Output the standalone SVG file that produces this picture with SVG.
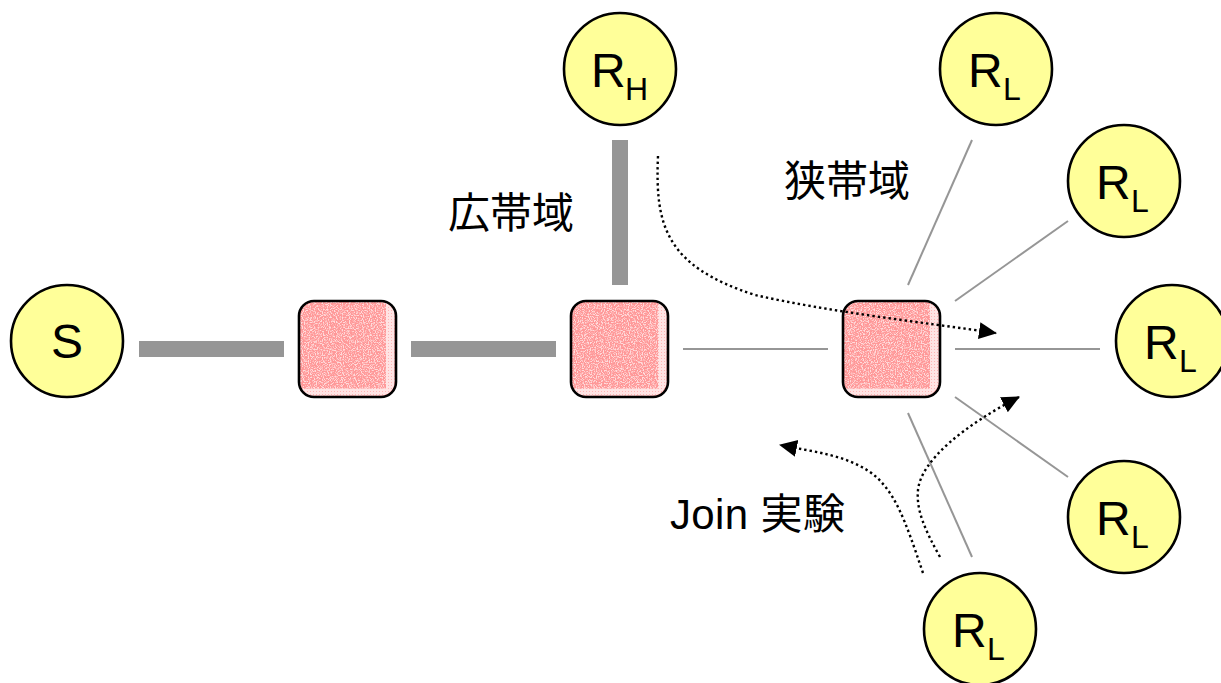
<svg xmlns="http://www.w3.org/2000/svg" width="1221" height="683" viewBox="0 0 1221 683">
<style>
text{font-family:"Liberation Sans","Noto Sans CJK JP",sans-serif;fill:#000}
.big{font-size:48px}
.sub{font-size:32px}
.cjk{font-size:42px}
.node{fill:#ffff99;stroke:#000;stroke-width:2.600}
.router{fill:#ff9898;filter:url(#noise)}
.edge{fill:none;stroke:#000;stroke-width:2.600}
.thick{stroke:#969696;stroke-width:16;fill:none}
.thin{stroke:#969696;stroke-width:2;fill:none}
.flow{stroke:#000;stroke-width:2.400;stroke-dasharray:2.400 3;fill:none;marker-end:url(#head)}
</style>
<defs>
<filter id="noise" x="0" y="0" width="1" height="1" color-interpolation-filters="sRGB">
<feTurbulence type="fractalNoise" baseFrequency="0.85" numOctaves="2" seed="4" result="n"/>
<feColorMatrix in="n" type="matrix" values="0 0 0 0 1  0 0 0 0 0.86  0 0 0 0 0.86  5 0 0 0 -2.300" result="m"/>
<feComposite in="m" in2="SourceAlpha" operator="in" result="s"/>
<feMerge><feMergeNode in="SourceGraphic"/><feMergeNode in="s"/></feMerge>
</filter>
<pattern id="fade" patternUnits="userSpaceOnUse" width="3" height="3">
<rect width="3" height="3" fill="#ffe4e4"/><rect x="1" y="1" width="1" height="1" fill="#ffb4b4"/>
</pattern>
<marker id="head" markerUnits="userSpaceOnUse" markerWidth="20" markerHeight="20" refX="17" refY="10" orient="auto">
<path d="M0 1.500L18 10L0 18.500Z" fill="#000"/>
</marker>
</defs>
<g id="connectors">
<path class="thick" d="M139 349H284"/>
<path class="thick" d="M411 349H556"/>
<path class="thick" d="M620 140V285"/>
<path class="thin" d="M683 349H828"/>
<path class="thin" d="M955 349H1100"/>
<path class="thin" d="M908 285L972 140"/>
<path class="thin" d="M955 301L1068 221"/>
<path class="thin" d="M955 397L1068 477"/>
<path class="thin" d="M908 413L972 557"/>
</g>
<g id="node-s"><circle class="node" cx="67" cy="341" r="56"/><text class="big" x="67" y="358" text-anchor="middle">S</text></g>
<g id="router-1"><rect class="router" x="299" y="301" width="97" height="96" rx="15"/><path fill="url(#fade)" d="M387 302.500h-1v86h-85.500a14 14 0 0 0 13 7h68a14 14 0 0 0 13-13v-68a14 14 0 0 0-7.500-12z"/><rect class="edge" x="299" y="301" width="97" height="96" rx="15"/></g>
<g id="router-2"><rect class="router" x="571" y="301" width="97" height="96" rx="15"/><path fill="url(#fade)" d="M659 302.500h-1v86h-85.500a14 14 0 0 0 13 7h68a14 14 0 0 0 13-13v-68a14 14 0 0 0-7.500-12z"/><rect class="edge" x="571" y="301" width="97" height="96" rx="15"/></g>
<g id="router-3"><rect class="router" x="843" y="301" width="97" height="96" rx="15"/><path fill="url(#fade)" d="M931 302.500h-1v86h-85.500a14 14 0 0 0 13 7h68a14 14 0 0 0 13-13v-68a14 14 0 0 0-7.500-12z"/><rect class="edge" x="843" y="301" width="97" height="96" rx="15"/></g>
<g id="node-rh"><circle class="node" cx="620" cy="69" r="56"/><text class="big" x="591" y="87">R</text><text class="sub" x="625" y="100">H</text></g>
<g id="node-rl1"><circle class="node" cx="996" cy="69" r="56"/><text class="big" x="968" y="87">R</text><text class="sub" x="1003" y="100">L</text></g>
<g id="node-rl2"><circle class="node" cx="1124" cy="181" r="56"/><text class="big" x="1096" y="199">R</text><text class="sub" x="1131" y="212">L</text></g>
<g id="node-rl3"><circle class="node" cx="1172" cy="341" r="56"/><text class="big" x="1144" y="359">R</text><text class="sub" x="1179" y="372">L</text></g>
<g id="node-rl4"><circle class="node" cx="1124" cy="517" r="56"/><text class="big" x="1096" y="535">R</text><text class="sub" x="1131" y="548">L</text></g>
<g id="node-rl5"><circle class="node" cx="980" cy="629" r="56"/><text class="big" x="952" y="647">R</text><text class="sub" x="987" y="660">L</text></g>
<g id="flows">
<path class="flow" d="M658 156C655 225 665 266 755 295C830 312 920 322 996 333"/>
<path class="flow" d="M940 557C925 530 916 510 918 490C921 460 965 425 1019 397"/>
<path class="flow" d="M923 573C905 520 895 490 870 472C845 455 815 452 780 445"/>
</g>
<g id="labels">
<text class="cjk" x="448" y="228">広帯域</text>
<text class="cjk" x="784" y="196">狭帯域</text>
<text class="cjk" x="670" y="529" textLength="175">Join 実験</text>
</g>
</svg>
